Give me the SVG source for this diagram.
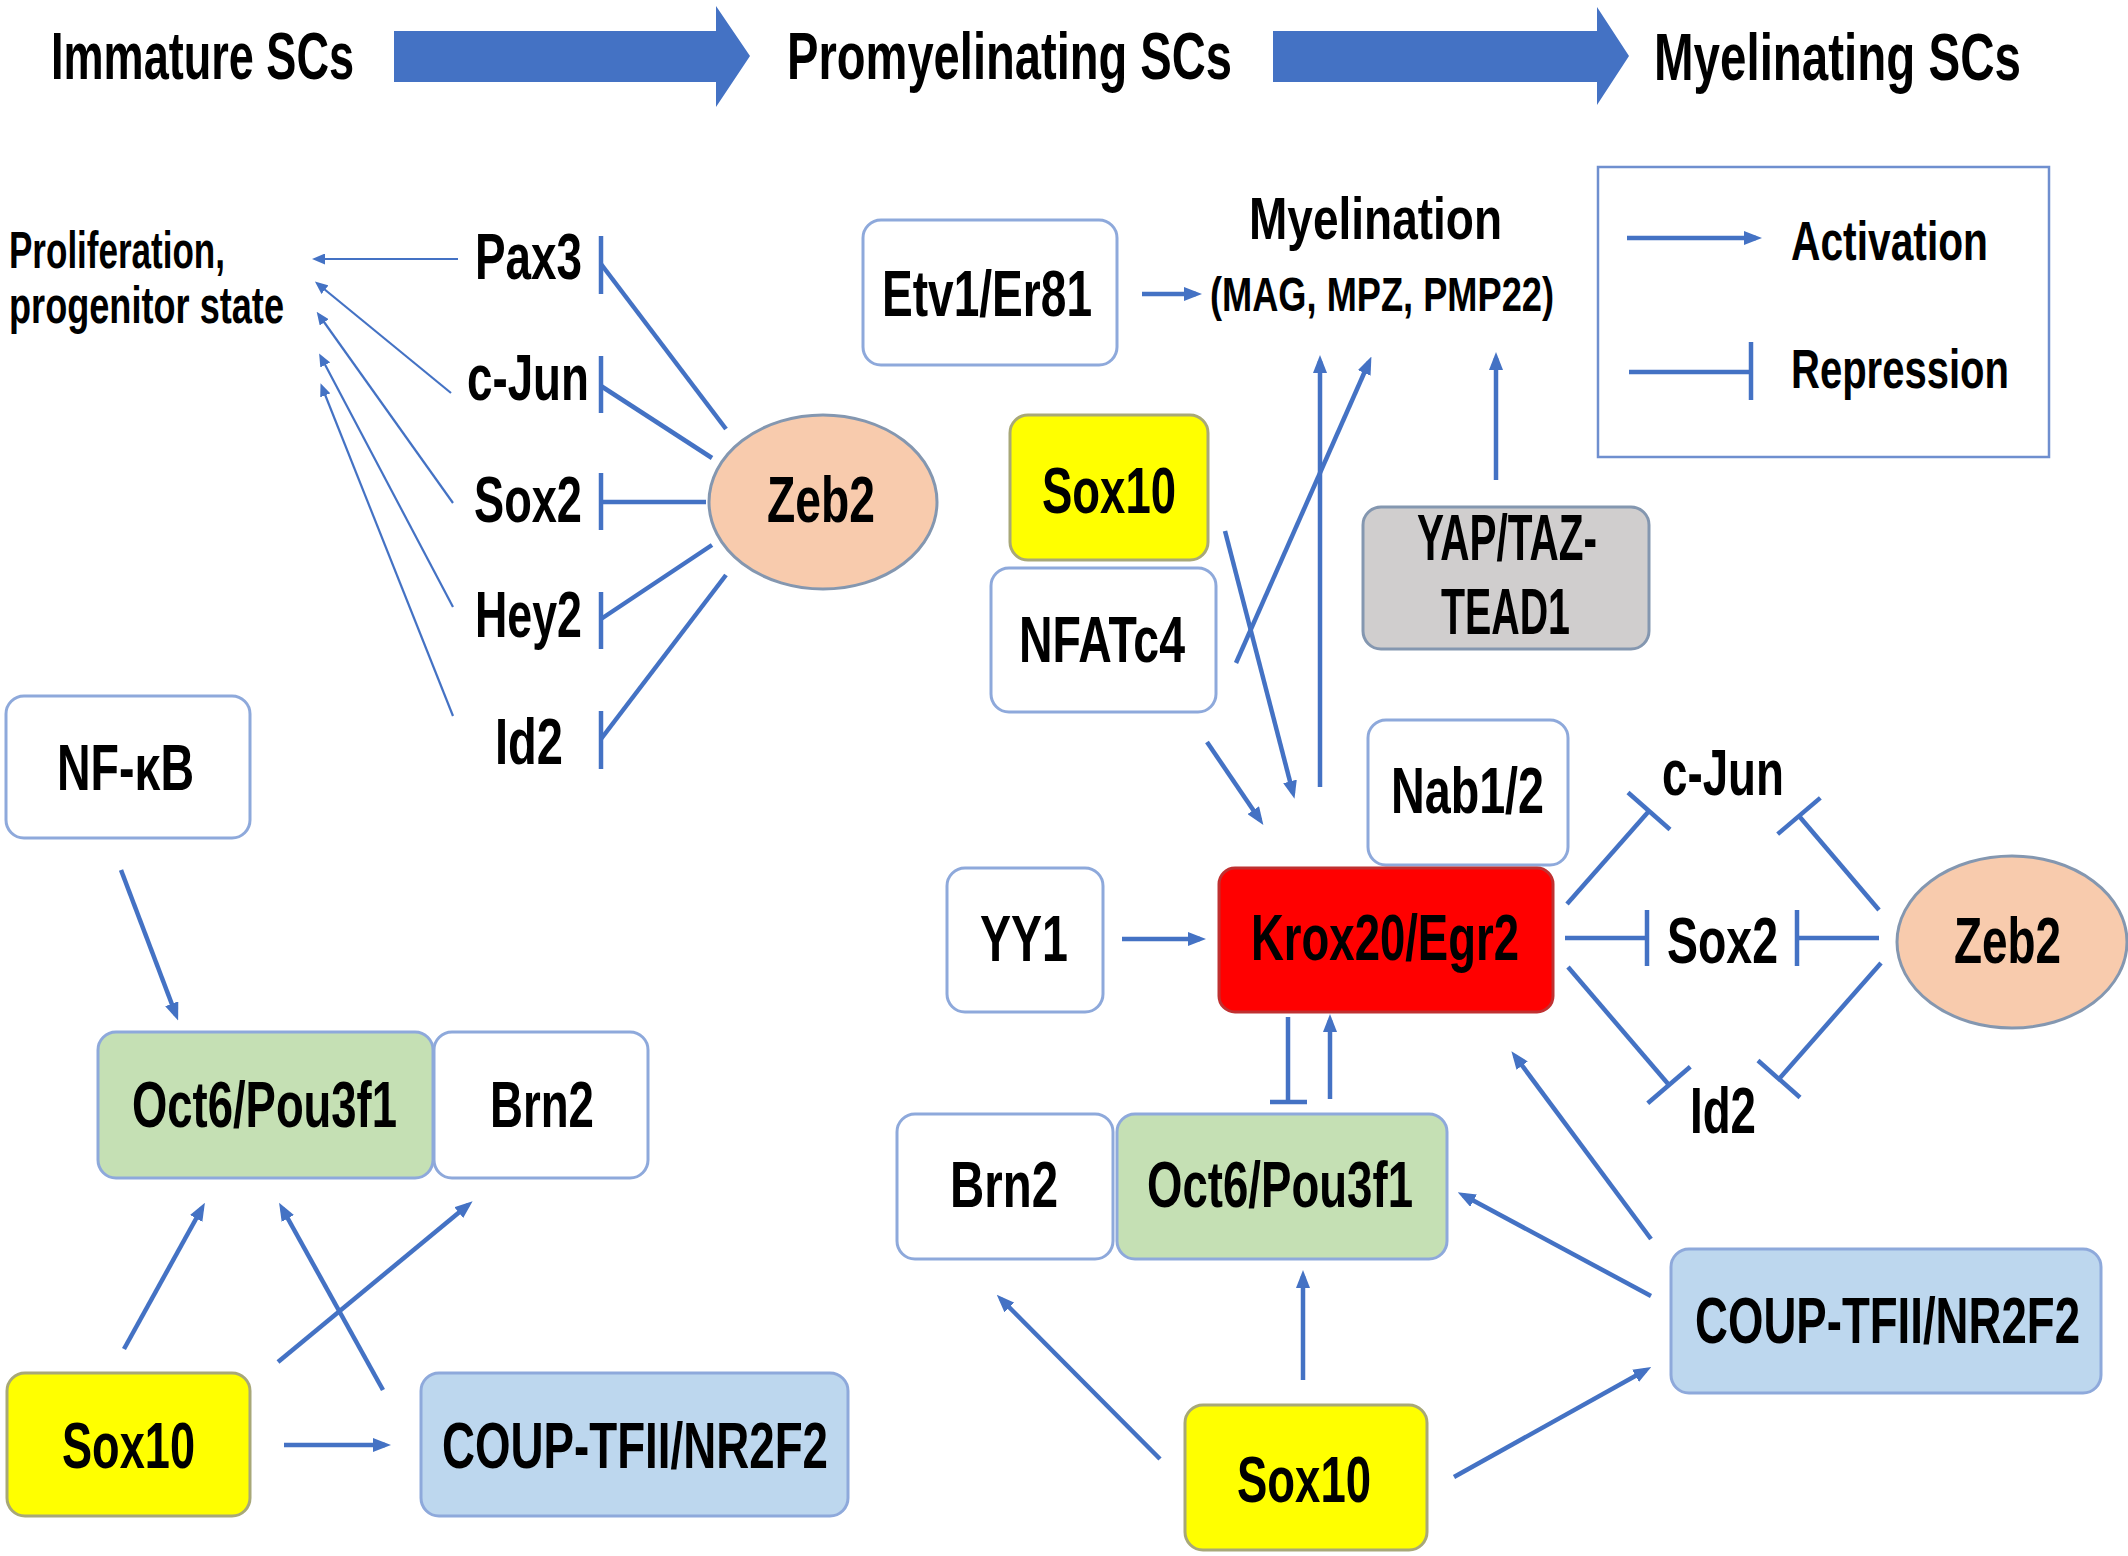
<svg xmlns="http://www.w3.org/2000/svg" width="2128" height="1556" viewBox="0 0 2128 1556">
<style>
  text { font-family: "Liberation Sans Narrow", "Liberation Sans", Arial, sans-serif; font-weight: bold; fill: #000; }
  .t { font-size: 67px; }
  .n { font-size: 64px; }
  .s { font-size: 52px; }
  .box { stroke: #8EA9DB; stroke-width: 3; }
  .wh { fill: #FFFFFF; }
  .yl { fill: #FFFF00; stroke: #A8A878; }
  .gr { fill: #C5E0B4; }
  .bl { fill: #BDD7EE; }
  .gy { fill: #D0CECE; stroke: #8497B0; }
  .rd { fill: #FF0000; stroke: #C03030; }
  .ell { fill: #F8CBAD; stroke: #8497B0; stroke-width: 3; }
  .c { stroke: #4472C4; stroke-width: 4.5; fill: none; }
  .thin { stroke: #4472C4; stroke-width: 2.2; fill: none; }
  .act { marker-end: url(#ah); }
  .actT { marker-end: url(#ahs); }
  .rep { marker-end: url(#tee); }
</style>
<defs>
  <marker id="ah" viewBox="0 0 18 14" refX="12" refY="7" markerWidth="18" markerHeight="14" markerUnits="userSpaceOnUse" orient="auto">
    <path d="M0,0 L18,7 L0,14 z" fill="#4472C4"/>
  </marker>
  <marker id="ahs" viewBox="0 0 13 11" refX="9" refY="5.5" markerWidth="13" markerHeight="11" markerUnits="userSpaceOnUse" orient="auto">
    <path d="M0,0 L13,5.5 L0,11 z" fill="#4472C4"/>
  </marker>
  <marker id="tee" viewBox="-3 -30 6 60" refX="0" refY="0" markerWidth="6" markerHeight="60" markerUnits="userSpaceOnUse" orient="auto">
    <path d="M0,-28 V28" stroke="#4472C4" stroke-width="4.5"/>
  </marker>
</defs>

<g id="stages">
  <text class="t" x="51" y="79" textLength="303" lengthAdjust="spacingAndGlyphs">Immature SCs</text>
  <polygon points="394,31 716,31 716,6 750,56 716,107 716,82 394,82" fill="#4472C4"/>
  <text class="t" x="787" y="79" textLength="445" lengthAdjust="spacingAndGlyphs">Promyelinating SCs</text>
  <polygon points="1273,31 1597,31 1597,7 1629,56 1597,105 1597,82 1273,82" fill="#4472C4"/>
  <text class="t" x="1654" y="80" textLength="367" lengthAdjust="spacingAndGlyphs">Myelinating SCs</text>
</g>

<g id="proliferation">
  <text class="s" x="9" y="268" textLength="216" lengthAdjust="spacingAndGlyphs">Proliferation,</text>
  <text class="s" x="9" y="323" textLength="275" lengthAdjust="spacingAndGlyphs">progenitor state</text>
</g>
<g id="pax3-l"><text class="n" x="475" y="279" textLength="107" lengthAdjust="spacingAndGlyphs">Pax3</text></g>
<g id="cjun-l"><text class="n" x="467" y="400" textLength="122" lengthAdjust="spacingAndGlyphs">c-Jun</text></g>
<g id="sox2-l"><text class="n" x="474" y="522" textLength="108" lengthAdjust="spacingAndGlyphs">Sox2</text></g>
<g id="hey2-l"><text class="n" x="475" y="637" textLength="107" lengthAdjust="spacingAndGlyphs">Hey2</text></g>
<g id="id2-l"><text class="n" x="495" y="764" textLength="68" lengthAdjust="spacingAndGlyphs">Id2</text></g>
<g id="zeb2-l">
  <ellipse class="ell" cx="823" cy="502" rx="114" ry="87"/>
  <text class="n" x="767" y="522" textLength="108" lengthAdjust="spacingAndGlyphs">Zeb2</text>
</g>

<g id="nfkb">
  <rect class="box wh" x="6" y="696" width="244" height="142" rx="18"/>
  <text class="n" x="57" y="790" textLength="137" lengthAdjust="spacingAndGlyphs">NF-κB</text>
</g>
<g id="oct6-l">
  <rect class="box gr" x="98" y="1032" width="335" height="146" rx="18"/>
  <text class="n" x="132" y="1127" textLength="265" lengthAdjust="spacingAndGlyphs">Oct6/Pou3f1</text>
</g>
<g id="brn2-l">
  <rect class="box wh" x="434" y="1032" width="214" height="146" rx="18"/>
  <text class="n" x="490" y="1127" textLength="104" lengthAdjust="spacingAndGlyphs">Brn2</text>
</g>
<g id="sox10-l">
  <rect class="box yl" x="7" y="1373" width="243" height="143" rx="18"/>
  <text class="n" x="62" y="1468" textLength="133" lengthAdjust="spacingAndGlyphs">Sox10</text>
</g>
<g id="coup-l">
  <rect class="box bl" x="421" y="1373" width="427" height="143" rx="18"/>
  <text class="n" x="442" y="1468" textLength="386" lengthAdjust="spacingAndGlyphs">COUP-TFII/NR2F2</text>
</g>

<g id="etv1">
  <rect class="box wh" x="863" y="220" width="254" height="145" rx="18"/>
  <text class="n" x="882" y="316" textLength="210" lengthAdjust="spacingAndGlyphs">Etv1/Er81</text>
</g>
<g id="myelination">
  <text style="font-size:60px" x="1249" y="239" textLength="253" lengthAdjust="spacingAndGlyphs">Myelination</text>
  <text style="font-size:48px" x="1210" y="311" textLength="344" lengthAdjust="spacingAndGlyphs">(MAG, MPZ, PMP22)</text>
</g>
<g id="legend">
  <rect x="1598" y="167" width="451" height="290" fill="#FFFFFF" stroke="#6F8FCF" stroke-width="2.5"/>
  <line class="c act" x1="1627" y1="238" x2="1756" y2="238"/>
  <text style="font-size:56px" x="1791" y="260" textLength="197" lengthAdjust="spacingAndGlyphs">Activation</text>
  <line class="c" x1="1629" y1="372" x2="1751" y2="372"/>
  <line class="c" x1="1751" y1="342" x2="1751" y2="400"/>
  <text style="font-size:56px" x="1791" y="388" textLength="218" lengthAdjust="spacingAndGlyphs">Repression</text>
</g>
<g id="sox10-tr">
  <rect class="box yl" x="1010" y="415" width="198" height="145" rx="18"/>
  <text class="n" x="1042" y="513" textLength="134" lengthAdjust="spacingAndGlyphs">Sox10</text>
</g>
<g id="nfatc4">
  <rect class="box wh" x="991" y="568" width="225" height="144" rx="18"/>
  <text class="n" x="1019" y="662" textLength="166" lengthAdjust="spacingAndGlyphs">NFATc4</text>
</g>
<g id="yap">
  <rect class="box gy" x="1363" y="507" width="286" height="142" rx="18"/>
  <text class="n" x="1417" y="560" textLength="180" lengthAdjust="spacingAndGlyphs">YAP/TAZ-</text>
  <text class="n" x="1441" y="634" textLength="129" lengthAdjust="spacingAndGlyphs">TEAD1</text>
</g>
<g id="nab12">
  <rect class="box wh" x="1368" y="720" width="200" height="145" rx="18"/>
  <text class="n" x="1391" y="813" textLength="153" lengthAdjust="spacingAndGlyphs">Nab1/2</text>
</g>
<g id="krox20">
  <rect class="box rd" x="1219" y="868" width="334" height="144" rx="16"/>
  <text class="n" x="1251" y="960" textLength="268" lengthAdjust="spacingAndGlyphs">Krox20/Egr2</text>
</g>
<g id="yy1">
  <rect class="box wh" x="947" y="868" width="156" height="144" rx="18"/>
  <text class="n" x="980" y="961" textLength="88" lengthAdjust="spacingAndGlyphs">YY1</text>
</g>
<g id="cjun-r"><text class="n" x="1662" y="795" textLength="122" lengthAdjust="spacingAndGlyphs">c-Jun</text></g>
<g id="sox2-r"><text class="n" x="1667" y="963" textLength="111" lengthAdjust="spacingAndGlyphs">Sox2</text></g>
<g id="id2-r"><text class="n" x="1690" y="1133" textLength="66" lengthAdjust="spacingAndGlyphs">Id2</text></g>
<g id="zeb2-r">
  <ellipse class="ell" cx="2012" cy="942" rx="115" ry="86"/>
  <text class="n" x="1954" y="963" textLength="107" lengthAdjust="spacingAndGlyphs">Zeb2</text>
</g>
<g id="brn2-r">
  <rect class="box wh" x="897" y="1114" width="216" height="145" rx="18"/>
  <text class="n" x="950" y="1207" textLength="108" lengthAdjust="spacingAndGlyphs">Brn2</text>
</g>
<g id="oct6-r">
  <rect class="box gr" x="1117" y="1114" width="330" height="145" rx="18"/>
  <text class="n" x="1147" y="1207" textLength="266" lengthAdjust="spacingAndGlyphs">Oct6/Pou3f1</text>
</g>
<g id="coup-r">
  <rect class="box bl" x="1671" y="1249" width="430" height="144" rx="18"/>
  <text class="n" x="1695" y="1343" textLength="385" lengthAdjust="spacingAndGlyphs">COUP-TFII/NR2F2</text>
</g>
<g id="sox10-b">
  <rect class="box yl" x="1185" y="1405" width="242" height="145" rx="18"/>
  <text class="n" x="1237" y="1502" textLength="134" lengthAdjust="spacingAndGlyphs">Sox10</text>
</g>

<g id="connectors">
  <line class="thin actT" x1="458" y1="259" x2="316" y2="259"/>
  <line class="thin actT" x1="451" y1="393" x2="318" y2="284"/>
  <line class="thin actT" x1="453" y1="503" x2="319" y2="315"/>
  <line class="thin actT" x1="453" y1="607" x2="321" y2="357"/>
  <line class="thin actT" x1="453" y1="716" x2="322" y2="387"/>
  <line class="c" x1="726" y1="429" x2="601" y2="264"/>
  <line class="c" x1="601" y1="236" x2="601" y2="294"/>
  <line class="c" x1="712" y1="458" x2="601" y2="386"/>
  <line class="c" x1="601" y1="356" x2="601" y2="413"/>
  <line class="c" x1="706" y1="502" x2="601" y2="502"/>
  <line class="c" x1="601" y1="473" x2="601" y2="530"/>
  <line class="c" x1="712" y1="545" x2="601" y2="619"/>
  <line class="c" x1="601" y1="592" x2="601" y2="649"/>
  <line class="c" x1="726" y1="575" x2="601" y2="739"/>
  <line class="c" x1="601" y1="711" x2="601" y2="769"/>
  <line class="c act" x1="121" y1="870" x2="176" y2="1015"/>
  <line class="c act" x1="124" y1="1349" x2="202" y2="1208"/>
  <line class="c act" x1="383" y1="1390" x2="282" y2="1208"/>
  <line class="c act" x1="278" y1="1362" x2="468" y2="1205"/>
  <line class="c act" x1="284" y1="1445" x2="385" y2="1445"/>
  <line class="c act" x1="1142" y1="294" x2="1196" y2="294"/>
  <line class="c act" x1="1320" y1="787" x2="1320" y2="361"/>
  <line class="c act" x1="1236" y1="663" x2="1369" y2="362"/>
  <line class="c act" x1="1496" y1="480" x2="1496" y2="358"/>
  <line class="c act" x1="1225" y1="531" x2="1293" y2="793"/>
  <line class="c act" x1="1207" y1="742" x2="1260" y2="820"/>
  <line class="c act" x1="1122" y1="939" x2="1200" y2="939"/>
  <line class="c act" x1="1330" y1="1099" x2="1330" y2="1020"/>
  <line class="c" x1="1288" y1="1017" x2="1288" y2="1102"/>
  <line class="c" x1="1270" y1="1102" x2="1307" y2="1102"/>
  <line class="c rep" x1="1567" y1="904" x2="1649" y2="811"/>
  <line class="c rep" x1="1565" y1="938" x2="1647" y2="938"/>
  <line class="c rep" x1="1568" y1="967" x2="1669" y2="1085"/>
  <line class="c rep" x1="1879" y1="910" x2="1799" y2="816"/>
  <line class="c rep" x1="1879" y1="938" x2="1797" y2="938"/>
  <line class="c rep" x1="1881" y1="963" x2="1779" y2="1079"/>
  <line class="c act" x1="1303" y1="1380" x2="1303" y2="1276"/>
  <line class="c act" x1="1454" y1="1477" x2="1646" y2="1370"/>
  <line class="c act" x1="1160" y1="1459" x2="1001" y2="1299"/>
  <line class="c act" x1="1651" y1="1296" x2="1463" y2="1195"/>
  <line class="c act" x1="1651" y1="1239" x2="1515" y2="1056"/>
</g>
</svg>
